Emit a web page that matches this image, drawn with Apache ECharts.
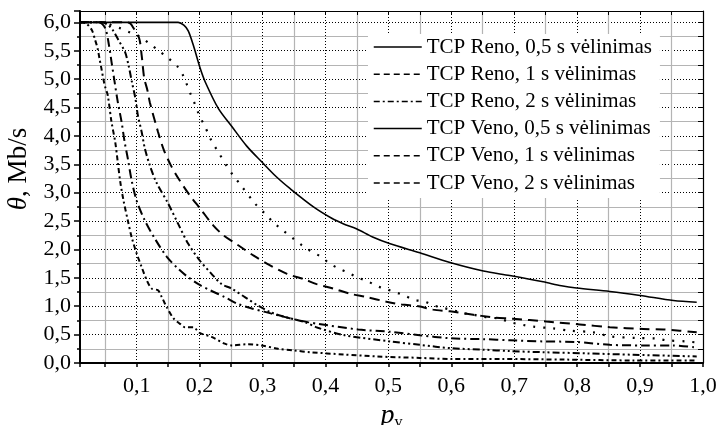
<!DOCTYPE html>
<html>
<head>
<meta charset="utf-8">
<script src="https://cdn.jsdelivr.net/npm/echarts@6/dist/echarts.min.js"></script>
<style>
  html, body { margin: 0; padding: 0; background: #fff; }
  #chart { width: 720px; height: 425px; }
</style>
</head>
<body>
<div id="chart"></div>
<script>
// legend / series names
const seriesNames = [
  'TCP Reno, 0,5 s vėlinimas',
  'TCP Reno, 1 s vėlinimas',
  'TCP Reno, 2 s vėlinimas',
  'TCP Veno, 0,5 s vėlinimas',
  'TCP Veno, 1 s vėlinimas',
  'TCP Veno, 2 s vėlinimas'
]

// [p_v, throughput Mb/s]
const renoHalf = [[0.01,6.0],[0.166,6.0],[0.175,5.95],[0.182,5.85],[0.19,5.6],[0.201,5.19],[0.209,4.95],[0.23,4.48],[0.251,4.17],[0.275,3.82],[0.299,3.54],[0.322,3.28],[0.344,3.07],[0.381,2.75],[0.41,2.55],[0.429,2.45],[0.45,2.36],[0.475,2.22],[0.503,2.1],[0.55,1.94],[0.598,1.77],[0.651,1.62],[0.693,1.54],[0.746,1.43],[0.775,1.36],[0.799,1.32],[0.852,1.26],[0.9,1.19],[0.953,1.1],[0.99,1.07]]
const renoOne = [[0.01,6.0],[0.085,6.0],[0.09,5.98],[0.095,5.9],[0.104,5.72],[0.108,5.42],[0.112,5.02],[0.117,4.81],[0.121,4.59],[0.134,4.07],[0.143,3.76],[0.154,3.49],[0.167,3.24],[0.184,2.96],[0.201,2.72],[0.222,2.42],[0.238,2.25],[0.262,2.07],[0.286,1.89],[0.312,1.72],[0.339,1.57],[0.365,1.48],[0.386,1.39],[0.413,1.31],[0.439,1.22],[0.466,1.16],[0.497,1.08],[0.521,1.03],[0.548,1.0],[0.571,0.94],[0.598,0.91],[0.622,0.87],[0.648,0.83],[0.669,0.8],[0.698,0.78],[0.751,0.73],[0.804,0.68],[0.852,0.63],[0.905,0.6],[0.937,0.59],[0.963,0.57],[0.99,0.54]]
const renoTwo = [[0.01,6.0],[0.045,6.0],[0.055,5.95],[0.063,5.85],[0.071,5.69],[0.0815,5.48],[0.087,5.25],[0.0925,4.95],[0.098,4.66],[0.102,4.36],[0.108,4.07],[0.113,3.78],[0.121,3.48],[0.131,3.19],[0.15,2.81],[0.166,2.45],[0.182,2.1],[0.2,1.81],[0.219,1.57],[0.235,1.39],[0.251,1.31],[0.272,1.16],[0.293,1.01],[0.314,0.89],[0.336,0.81],[0.367,0.72],[0.388,0.62],[0.43,0.49],[0.503,0.38],[0.55,0.32],[0.6,0.26],[0.651,0.235],[0.693,0.21],[0.746,0.19],[0.815,0.17],[0.889,0.145],[0.99,0.115]]
const venoHalf = [[0.01,6.0],[0.05,6.0],[0.06,5.95],[0.075,5.89],[0.09,5.82],[0.105,5.75],[0.12,5.63],[0.134,5.51],[0.149,5.38],[0.165,5.22],[0.174,5.06],[0.186,4.73],[0.193,4.55],[0.199,4.38],[0.206,4.22],[0.213,4.06],[0.22,3.89],[0.229,3.73],[0.243,3.47],[0.253,3.31],[0.265,3.14],[0.288,2.81],[0.303,2.64],[0.317,2.48],[0.332,2.34],[0.348,2.2],[0.363,2.07],[0.377,1.97],[0.393,1.87],[0.407,1.75],[0.422,1.66],[0.438,1.58],[0.452,1.5],[0.467,1.44],[0.483,1.35],[0.497,1.3],[0.513,1.24],[0.527,1.18],[0.542,1.11],[0.558,1.08],[0.573,1.01],[0.587,0.97],[0.603,0.93],[0.619,0.88],[0.632,0.86],[0.648,0.82],[0.661,0.8],[0.677,0.78],[0.693,0.72],[0.714,0.67],[0.73,0.64],[0.762,0.61],[0.788,0.57],[0.826,0.54],[0.852,0.47],[0.894,0.44],[0.926,0.43],[0.942,0.4],[0.974,0.38],[0.99,0.36]]
const venoOne = [[0.01,6.0],[0.04,6.0],[0.05,5.9],[0.056,5.6],[0.06,5.31],[0.065,4.95],[0.07,4.6],[0.076,4.25],[0.081,3.89],[0.086,3.6],[0.092,3.22],[0.1,2.86],[0.113,2.51],[0.129,2.19],[0.148,1.87],[0.166,1.66],[0.182,1.51],[0.201,1.37],[0.217,1.28],[0.24,1.16],[0.261,1.04],[0.283,0.96],[0.304,0.9],[0.325,0.84],[0.346,0.78],[0.372,0.72],[0.388,0.69],[0.452,0.59],[0.503,0.55],[0.55,0.49],[0.598,0.435],[0.651,0.42],[0.693,0.4],[0.746,0.38],[0.799,0.37],[0.852,0.32],[0.905,0.31],[0.952,0.31],[0.99,0.27]]
const venoTwo = [[0.01,6.0],[0.02,5.98],[0.029,5.86],[0.034,5.69],[0.038,5.54],[0.041,5.36],[0.044,5.19],[0.047,5.01],[0.05,4.86],[0.054,4.72],[0.06,4.25],[0.066,3.89],[0.07,3.54],[0.074,3.19],[0.079,2.87],[0.086,2.51],[0.092,2.22],[0.1,1.93],[0.108,1.69],[0.116,1.46],[0.124,1.31],[0.134,1.28],[0.14,1.16],[0.148,0.98],[0.159,0.78],[0.169,0.69],[0.177,0.63],[0.19,0.63],[0.2,0.53],[0.219,0.46],[0.24,0.34],[0.251,0.31],[0.277,0.33],[0.298,0.31],[0.325,0.25],[0.351,0.22],[0.376,0.19],[0.429,0.15],[0.482,0.115],[0.55,0.09],[0.6,0.07],[0.68,0.07],[0.78,0.06],[0.89,0.045],[0.99,0.045]]

const seriesData = [renoHalf, renoOne, renoTwo, venoHalf, venoOne, venoTwo]

const FONT = '"Liberation Serif", "Times New Roman", serif'
const fmt = v => v.toFixed(1).replace('.', ',')

// line dash of each curve as drawn in the plot
const curveTypes = ['solid', [10, 6], [7, 3, 2, 3, 2, 3], [2, 8], [9, 4, 2, 4], [5, 3, 2, 3]]
const curveWidths = [1.6, 2, 2, 2.2, 2, 2]
// legend samples look different from the curves in the original
const legendTypes = ['solid', [6, 4], [6, 3, 2, 3], 'solid', [6, 4], [6, 4]]

const chart = echarts.init(document.getElementById('chart'), null, { renderer: 'canvas' })

const mainX = {
  type: 'value', min: 0.01, max: 1.0, splitNumber: 10,
  axisLine: { show: true, onZero: false, lineStyle: { color: '#000', width: 2 } },
  axisTick: { show: true, inside: false, length: 4, lineStyle: { color: '#000', width: 1.5 } },
  minorTick: { show: true, splitNumber: 2, length: 4, lineStyle: { color: '#000', width: 1.5 } },
  axisLabel: { show: true, showMinLabel: false, formatter: fmt, color: '#000', fontFamily: FONT, fontSize: 22, margin: 12 },
  splitLine: { show: true, lineStyle: { color: '#000', width: 1, type: [1, 2] } },
  minorSplitLine: { show: true, lineStyle: { color: '#b4b4b4', width: 1.2 } },
  name: '{p|p}{v|v}',
  nameLocation: 'middle',
  nameGap: 25,
  nameTextStyle: {
    rich: {
      p: { fontFamily: FONT, fontStyle: 'italic', fontSize: 28, color: '#000', verticalAlign: 'top', lineHeight: 28 },
      v: { fontFamily: FONT, fontSize: 16, color: '#000', verticalAlign: 'top', lineHeight: 16, padding: [13, 0, 0, 0] }
    }
  }
}

const mainY = {
  type: 'value', min: 0, max: 6.2, interval: 0.5,
  axisLine: { show: true, onZero: false, lineStyle: { color: '#000', width: 2 } },
  axisTick: { show: true, inside: false, length: 6, lineStyle: { color: '#000', width: 1.5 } },
  minorTick: { show: true, splitNumber: 2, length: 3, lineStyle: { color: '#000', width: 1.5 } },
  axisLabel: { show: true, showMaxLabel: false, formatter: fmt, color: '#000', fontFamily: FONT, fontSize: 22, margin: 9 },
  splitLine: { show: true, lineStyle: { color: '#000', width: 1, type: [1, 2] } },
  minorSplitLine: { show: true, lineStyle: { color: '#b4b4b4', width: 1.2 } },
  name: '{t|θ}, Mb/s',
  nameLocation: 'middle',
  nameGap: 48,
  nameTextStyle: {
    fontFamily: FONT, fontSize: 27, color: '#000',
    padding: [0, 0, 0, 36],
    rich: { t: { fontFamily: FONT, fontStyle: 'italic', fontSize: 27, color: '#000' } }
  }
}

// top / right frame with inward ticks
const topX = {
  type: 'value', min: 0.01, max: 1.0, splitNumber: 10, position: 'top',
  axisLine: { show: true, onZero: false, lineStyle: { color: '#000', width: 1.2 } },
  axisTick: { show: true, inside: true, length: 4, lineStyle: { color: '#000' } },
  minorTick: { show: true, splitNumber: 2, length: 4, lineStyle: { color: '#000' } },
  axisLabel: { show: false },
  splitLine: { show: false }
}
const rightY = {
  type: 'value', min: 0, max: 6.2, interval: 0.5, position: 'right',
  axisLine: { show: true, onZero: false, lineStyle: { color: '#000', width: 1.2 } },
  axisTick: { show: true, inside: true, length: 5, lineStyle: { color: '#000' } },
  minorTick: { show: true, splitNumber: 2, length: 5, lineStyle: { color: '#000' } },
  axisLabel: { show: false },
  splitLine: { show: false }
}

chart.setOption({
  backgroundColor: '#fff',
  animation: false,
  grid: { left: 80, right: 17, top: 11, bottom: 62, containLabel: false, outerBoundsMode: 'none' },
  xAxis: [mainX, topX],
  yAxis: [mainY, rightY],
  legend: {
    orient: 'vertical',
    left: 368,
    top: 34,
    padding: [2, 8, 4, 5],
    backgroundColor: '#fff',
    itemWidth: 48,
    itemHeight: 12,
    itemGap: 5.2,
    textStyle: { fontFamily: FONT, fontSize: 21, color: '#000', lineHeight: 22 },
    data: seriesNames.map((n, i) => ({
      name: n,
      // hide the marker dot, keep only the line sample
      itemStyle: { color: 'rgba(0,0,0,0)', borderWidth: 0, opacity: 0 },
      lineStyle: { color: '#000', width: 1.5, type: legendTypes[i] }
    }))
  },
  series: seriesNames.map((n, i) => ({
    name: n,
    type: 'line',
    xAxisIndex: 0,
    yAxisIndex: 0,
    showSymbol: false,
    symbol: 'none',
    smooth: 0.3,
    data: seriesData[i],
    lineStyle: { color: '#000', width: curveWidths[i], type: curveTypes[i] },
    itemStyle: { color: '#000' },
    z: 3
  }))
})

window.addEventListener('resize', () => chart.resize())
</script>
</body>
</html>
